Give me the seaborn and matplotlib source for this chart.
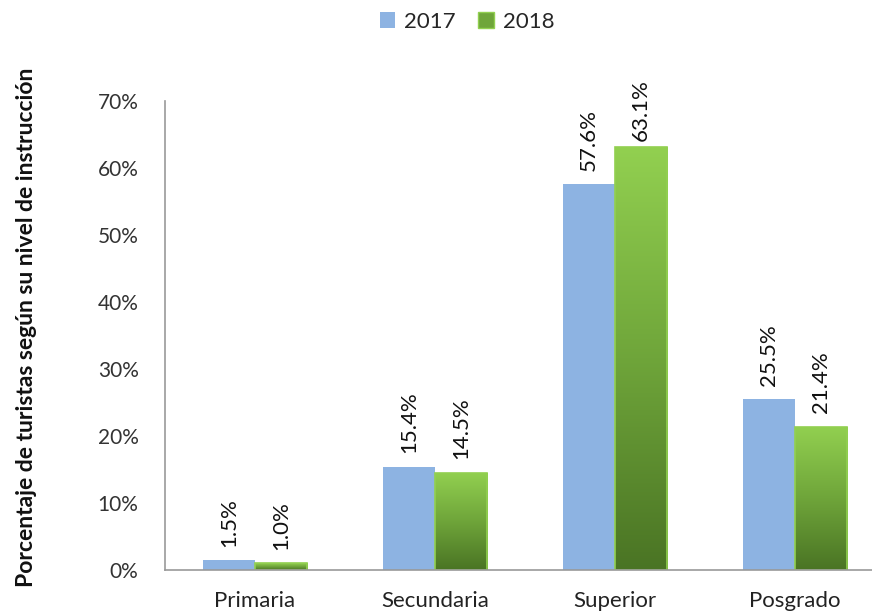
import matplotlib
matplotlib.use("Agg")
import matplotlib.pyplot as plt
import seaborn as sns
import pandas as pd
import numpy as np
from matplotlib.colors import LinearSegmentedColormap
from matplotlib.patches import Patch

categories = ["Primaria", "Secundaria", "Superior", "Posgrado"]
years = ["2017", "2018"]
values_2017 = [1.5, 15.4, 57.6, 25.5]
values_2018 = [1.0, 14.5, 63.1, 21.4]
yticks = [0, 10, 20, 30, 40, 50, 60, 70]

df = pd.DataFrame({
    "cat": categories * 2,
    "year": ["2017"] * 4 + ["2018"] * 4,
    "val": values_2017 + values_2018,
})

sns.set_theme(style="white")
plt.rcParams["font.family"] = ["Lato", "DejaVu Sans"]

blue = "#8DB3E2"
green_top = "#92D050"
green_bot = "#4A7424"

fig = plt.figure(figsize=(8.72, 6.14), dpi=100)
ax = fig.add_axes([165/872, 44/614, 720/872, 469/614])

sns.barplot(data=df, x="cat", y="val", hue="year", order=categories,
            hue_order=years, palette=[blue, green_top], width=0.58,
            ax=ax, legend=False, saturation=1)

ax.set_ylim(0, 70)
ax.set_xlim(-0.5, 3.5)
ax.set_yticks(yticks)
ax.set_yticklabels([f"{t}%" for t in yticks], fontsize=15, color="#333333")
ax.tick_params(axis="y", length=0, pad=19)
ax.tick_params(axis="x", length=0, pad=15, labelsize=16, labelcolor="#222222")
ax.set_xlabel("")
ax.set_ylabel("Porcentaje de turistas según su nivel de instrucción",
              fontsize=16.5, fontweight="bold", labelpad=44, color="#111111")
ax.yaxis.label.set_y((570 - 327) / 469)
for s in ["top", "right"]:
    ax.spines[s].set_visible(False)
for s in ["left", "bottom"]:
    ax.spines[s].set_color("#999999")
    ax.spines[s].set_linewidth(1.2)

cmap = LinearSegmentedColormap.from_list("g", [green_bot, "#6FA53A", green_top])
grad = np.linspace(0, 1, 256).reshape(-1, 1)

containers = ax.containers
for p in containers[0]:
    p.set_edgecolor("none")
for p in containers[1]:
    x0, y0 = p.get_x(), p.get_y()
    w, h = p.get_width(), p.get_height()
    p.set_facecolor("none")
    p.set_edgecolor(green_top)
    p.set_linewidth(1.2)
    im = ax.imshow(grad, cmap=cmap, origin="lower", aspect="auto",
                   extent=[x0, x0 + w, y0, y0 + h], zorder=p.get_zorder() - 0.1)
    im.set_clip_path(p)

ax.set_xlim(-0.5, 3.5)
ax.set_ylim(0, 70)

for cont in containers:
    for p in cont:
        base = min(p.get_height() + 2.0, 64.0)
        ax.text(p.get_x() + p.get_width() / 2, base, f"{p.get_height():.1f}%",
                ha="center", va="bottom", rotation=90,
                fontsize=16, color="#111111", clip_on=False)

handles = [Patch(facecolor=blue, edgecolor="none"),
           Patch(facecolor="#6FA53A", edgecolor=green_top)]
fig.legend(handles, years, loc="center", bbox_to_anchor=(467/872, 1 - 22/614),
           ncol=2, frameon=False, fontsize=16, handlelength=0.7,
           handleheight=0.7, columnspacing=1.0, handletextpad=0.4)

fig.savefig("out.png", dpi=100)
